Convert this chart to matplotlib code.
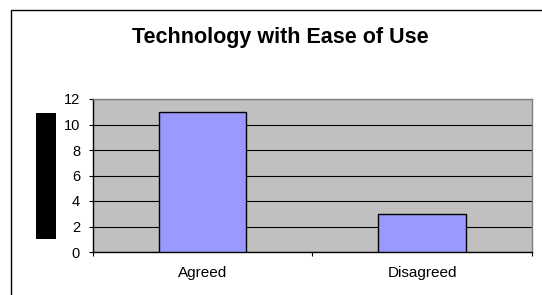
import matplotlib
matplotlib.use("Agg")
import matplotlib.pyplot as plt
from matplotlib.patches import Rectangle

categories = ["Agreed", "Disagreed"]
values = [11, 3]
yticks = [0, 2, 4, 6, 8, 10, 12]
title = "Technology with Ease of Use"

W, H = 542, 295
fig = plt.figure(figsize=(W / 100, H / 100), dpi=100)
plt.rcParams['font.family'] = ['Liberation Sans', 'DejaVu Sans']

def fx(px):
    return px / W

def fy(py):
    return 1 - py / H

# outer chart border
fig.patches.append(Rectangle((fx(11), fy(320)), fx(560) - fx(11), fy(10) - fy(320),
                             transform=fig.transFigure, fill=False, edgecolor='black',
                             linewidth=1.0))
# black block (redacted axis title)
fig.patches.append(Rectangle((fx(36), fy(238.5)), fx(56) - fx(36), fy(113) - fy(238.5),
                             transform=fig.transFigure, facecolor='black', edgecolor='none'))

ax = fig.add_axes([fx(92.6), fy(252), fx(532) - fx(92.6), fy(99) - fy(252)])
ax.set_facecolor('#C0C0C0')
x = list(range(len(categories)))
ax.bar(x, values, width=0.4, color='#9999FF', edgecolor='black', linewidth=1.0, zorder=3)
ax.set_xlim(-0.5, len(categories) - 0.5)
ax.set_ylim(0, 12)
ax.set_yticks(yticks)
ax.set_yticklabels([str(v) for v in yticks], fontsize=10.5)
ax.yaxis.grid(True, color='black', linewidth=0.8, zorder=1)
ax.set_axisbelow(True)
ax.set_xticks([i - 0.5 for i in range(len(categories) + 1)])
ax.set_xticklabels([])
ax.set_xticks(x, minor=True)
ax.set_xticklabels(categories, minor=True, fontsize=11)
ax.tick_params(axis='x', which='minor', length=0, pad=10)
ax.tick_params(axis='x', which='major', length=3, direction='out', width=0.8)
ax.tick_params(axis='y', length=3, direction='out', width=0.8, pad=6)
for s in ['top', 'right']:
    ax.spines[s].set_color('#808080')
    ax.spines[s].set_linewidth(1.0)
for s in ['left', 'bottom']:
    ax.spines[s].set_color('black')
    ax.spines[s].set_linewidth(1.0)

fig.text(fx(280), fy(37), title, ha='center', va='center', fontsize=15.5, fontweight='bold')

fig.savefig('out.png', dpi=100, facecolor='white')
